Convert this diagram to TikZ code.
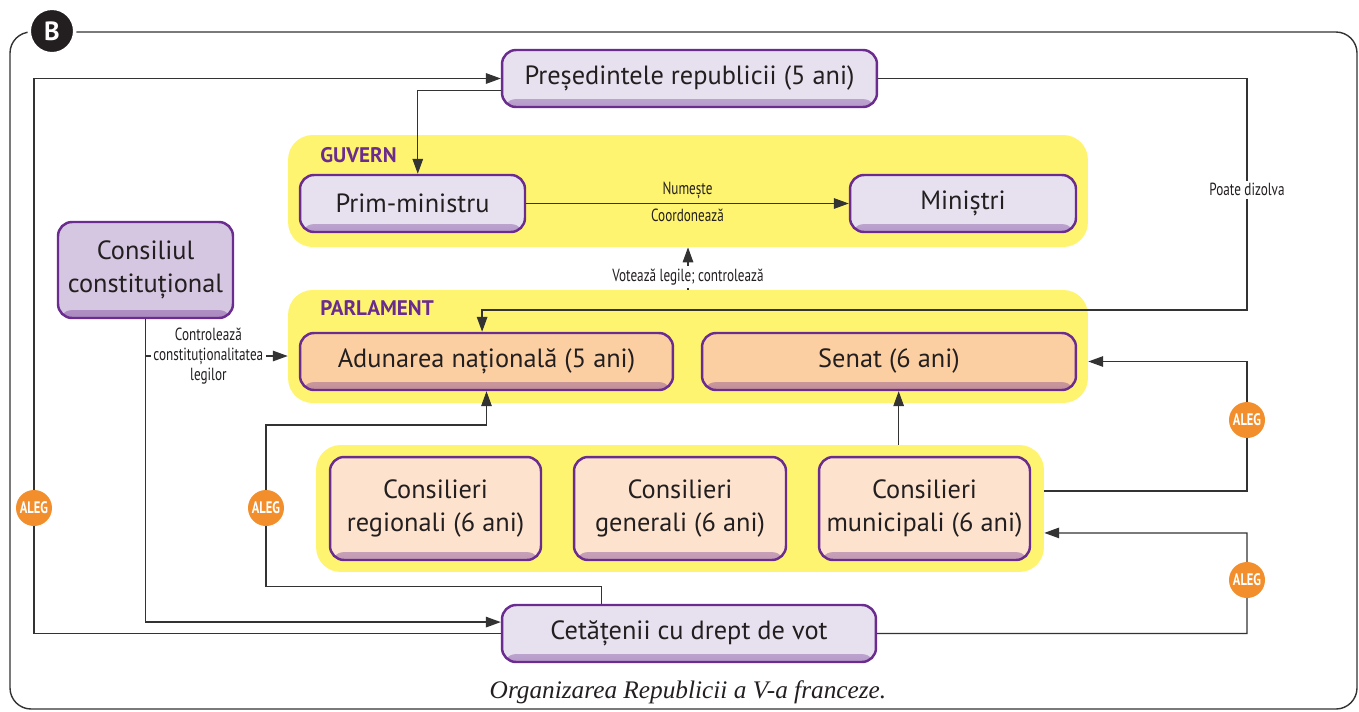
\documentclass[tikz,border=0pt]{standalone}
\usepackage{fontspec}
\setmainfont{PT Sans}
\newfontfamily\condfont[FakeStretch=0.75]{PT Sans}
\newfontfamily\capfont{Liberation Serif}
\usetikzlibrary{arrows.meta}
\definecolor{boxline}{HTML}{6A2C8E}
\definecolor{lav}{HTML}{E7E1EF}
\definecolor{lavdark}{HTML}{D5C7E1}
\definecolor{peach}{HTML}{FBCFA1}
\definecolor{peachlight}{HTML}{FDE3CD}
\definecolor{zonefill}{HTML}{FFF46F}
\definecolor{orng}{HTML}{F28E2B}
\definecolor{lne}{HTML}{333333}
\definecolor{txt}{HTML}{231F20}

\begin{document}
\begin{tikzpicture}[x=0.02cm, y=-0.02cm,
    box/.style={draw=boxline, line width=1.4pt, rounded corners=8pt, fill=#1, align=center,
        inner sep=0pt, text=txt, font=\fontsize{15}{18.5}\selectfont,
        path picture={\shade[top color=#1, bottom color=#1!60!boxline]
            ([yshift=4.5pt]path picture bounding box.south west) rectangle (path picture bounding box.south east);}},
    zone/.style={fill=zonefill, rounded corners=14pt, inner sep=0pt},
    zonelabel/.style={font=\bfseries\fontsize{12}{14}\selectfont, text=boxline, inner sep=0pt},
    lbl/.style={font=\condfont\fontsize{10}{11.5}\selectfont, text=txt, inner sep=1.5pt},
    arr/.style={-{Triangle[length=8.5pt,width=6pt]}, draw=lne, line width=0.7pt},
    aleg/.style={circle, fill=orng, text=white, inner sep=0pt, minimum size=0.72cm,
        font=\condfont\bfseries\fontsize{9.5}{10}\selectfont},
    badge/.style={circle, fill=txt, draw=white, line width=2pt, minimum size=0.91cm,
        inner sep=0pt, text=white, font=\bfseries\fontsize{15}{15}\selectfont}]
    \useasboundingbox (0,0) rectangle (1359,711);

    \draw[draw=lne, line width=0.8pt, rounded corners=12pt] (10,32) rectangle (1357,709);
    \node[badge] (b) at (52,31) {B};

    \node[zone, minimum width=16cm, minimum height=2.24cm] (guv) at (688,191) {};
    \node[zone, minimum width=16cm, minimum height=2.26cm] (parl) at (688,346.5) {};
    \node[zone, minimum width=14.56cm, minimum height=2.54cm] (loc) at (680,508.5) {};
    \node[zonelabel, anchor=west] (guvlbl) at (320,155) {GUVERN};
    \node[zonelabel, anchor=west] (parllbl) at (320,308) {PARLAMENT};

    \node[box=lav, minimum width=7.5cm, minimum height=1.14cm] (pres) at (689.5,78.5) {Președintele republicii (5 ani)};
    \node[box=lav, minimum width=4.5cm, minimum height=1.14cm] (prim) at (412.5,203.5) {Prim-ministru};
    \node[box=lav, minimum width=4.52cm, minimum height=1.14cm] (min) at (963,203.5) {Miniștri};
    \node[box=lavdark, minimum width=3.5cm, minimum height=1.92cm] (cc) at (145.5,270) {Consiliul\\constituțional};
    \node[box=peach, minimum width=7.46cm, minimum height=1.14cm] (adun) at (486.5,361.5) {Adunarea națională (5 ani)};
    \node[box=peach, minimum width=7.48cm, minimum height=1.14cm] (senat) at (889,361.5) {Senat (6 ani)};
    \node[box=peachlight, minimum width=4.22cm, minimum height=2.06cm] (reg) at (435.5,508.5) {Consilieri\\regionali (6 ani)};
    \node[box=peachlight, minimum width=4.24cm, minimum height=2.06cm] (gen) at (680,508.5) {Consilieri\\generali (6 ani)};
    \node[box=peachlight, minimum width=4.22cm, minimum height=2.06cm] (mun) at (924.5,508.5) {Consilieri\\municipali (6 ani)};
    \node[box=lav, minimum width=7.48cm, minimum height=1.14cm] (cet) at (689,633.5) {Cetățenii cu drept de vot};

    \draw[arr] ([yshift=-7pt]pres.west) -| ([xshift=3pt]prim.north);
    \draw[arr] (prim) -- (min) node[lbl, midway, above=1pt]{Numește} node[lbl, midway, below=1pt]{Coordonează};
    \draw[arr] (parl.north) -- node[lbl, pos=0.3, fill=white]{Votează legile; controlează} (guv.south);
    \draw[arr] (pres.east) -| node[lbl, pos=0.74, fill=white]{Poate dizolva} (1247,310) -| ([xshift=-2.5pt]adun.north);
    \draw[arr] (cet.west) -| (34,78.5) -- (pres.west);
    \draw[arr] (cc.south) |- ([yshift=6.5pt]cet.west);
    \coordinate (ccx) at (146,356);
    \draw[arr] (ccx) -- node[lbl, pos=0.44, fill=white, align=center]{Controlează\\constituționalitatea\\legilor} (ccx -| parl.west);
    \draw[arr] ([xshift=-50pt]cet.north) -- ++(0,-17) -| (266,425) -| (adun.south);
    \draw[arr] ([xshift=5.5pt]senat.south |- loc.north) -- ([xshift=5.5pt]senat.south);
    \draw[arr] ([yshift=10pt]loc.east) -| (1247,361.5) -- (parl.east |- senat.east);
    \draw[arr] (cet.east) -| (1247,533) -- ([yshift=-13.9pt]loc.east);

    \node[aleg] (a1) at (34,508) {ALEG};
    \node[aleg] (a2) at (266,508) {ALEG};
    \node[aleg] (a3) at (1247,420) {ALEG};
    \node[aleg] (a4) at (1247,580) {ALEG};

    \node[font=\capfont\itshape\fontsize{14.4}{16}\selectfont, text=txt] (cap) at (688,692) {Organizarea Republicii a V-a franceze.};
\end{tikzpicture}
\end{document}
